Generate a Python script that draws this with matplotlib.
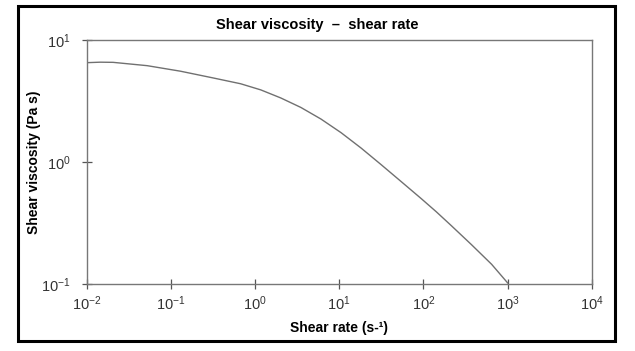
import matplotlib.pyplot as plt
from matplotlib.patches import Rectangle

plt.rcParams['font.family'] = ['Liberation Sans', 'DejaVu Sans']
plt.rcParams['axes.unicode_minus'] = False

# valores
shear_rate = [0.01, 0.0145, 0.0206, 0.0524, 0.130, 0.321, 0.673, 1.17, 2.02,
              3.50, 6.06, 10.5, 18.2, 31.5, 54.5, 94.4, 142.5, 215, 372,
              645, 1000]
viscosity = [6.52, 6.58, 6.56, 6.16, 5.55, 4.88, 4.38, 3.90, 3.35,
             2.80, 2.25, 1.74, 1.30, 0.95, 0.69, 0.50, 0.39, 0.30, 0.21,
             0.145, 0.102]

x_ticks = [1e-2, 1e-1, 1e0, 1e1, 1e2, 1e3, 1e4]
y_ticks = [1e-1, 1e0, 1e1]

fig = plt.figure(figsize=(6.35, 3.51), dpi=100)
ax = fig.add_axes([0.1365, 0.191, 0.7955, 0.695])

ax.plot(shear_rate, viscosity, color="#707070", linewidth=1.0)
ax.set_xscale("log")
ax.set_yscale("log")
ax.set_xlim(1e-2, 1e4)
ax.set_ylim(1e-1, 1e1)
ax.set_xticks(x_ticks)
ax.set_yticks(y_ticks)
ax.minorticks_off()
ax.tick_params(direction="inout", length=7, width=0.9, color="#555555",
               labelsize=10.5, labelcolor="#333333")
ax.tick_params(axis="x", pad=4)
ax.tick_params(axis="y", pad=8)
for s in ax.spines.values():
    s.set_color("#777777")
    s.set_linewidth(1.0)

ax.set_xlabel("Shear rate (s-¹)", fontsize=10, fontweight="bold")
ax.set_ylabel("Shear viscosity (Pa s)", fontsize=10, fontweight="bold")
ax.xaxis.set_label_coords(0.5, -0.15)
ax.yaxis.set_label_coords(-0.09, 0.5)
fig.text(0.5, 0.928, "Shear viscosity  –  shear rate", ha="center", va="center",
         fontsize=10.5, fontweight="bold")

# marco exterior
fig.patches.append(Rectangle((18 / 635, 1 - 341 / 351), 597 / 635, 335 / 351,
                             transform=fig.transFigure, fill=False,
                             edgecolor="black", linewidth=2.2))

fig.savefig("out.png", dpi=100)
